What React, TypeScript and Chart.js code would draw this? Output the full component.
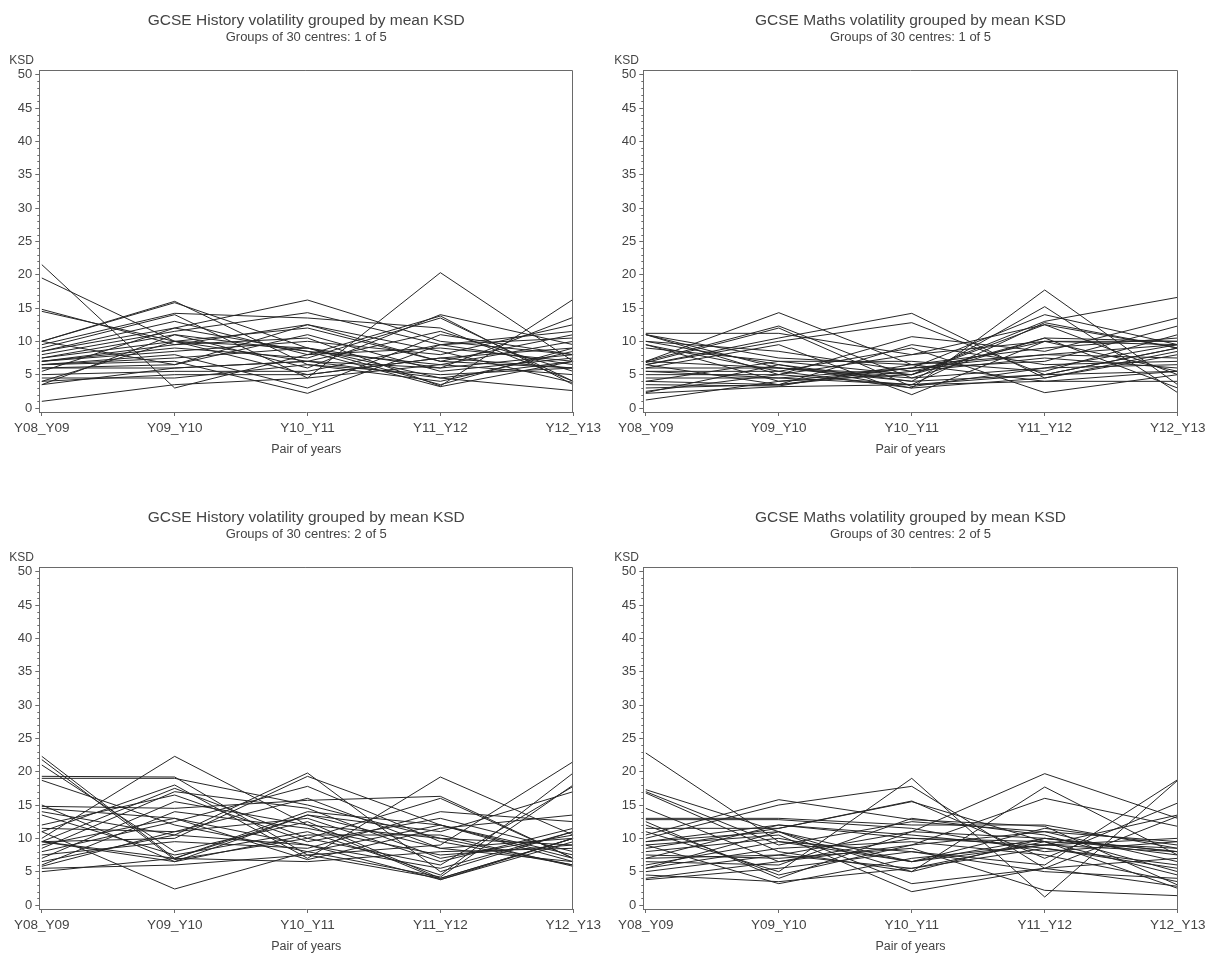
import React, { useEffect, useRef } from 'react';
import { Chart, registerables } from 'chart.js';

Chart.register(...registerables);

const FONT = '"Liberation Sans", Arial, sans-serif';
Chart.defaults.font.family = FONT;

const pairLabels = ['Y08_Y09', 'Y09_Y10', 'Y10_Y11', 'Y11_Y12', 'Y12_Y13'];
const xAxisTitle = 'Pair of years';
const yAxisTitle = 'KSD';

const historyGroup1: number[][] = [
  [21.5, 3, 8, 9, 7],
  [19.5, 10, 7, 6, 8],
  [14.8, 9.5, 12.5, 7, 6],
  [14.5, 10, 5, 7.5, 9],
  [10, 16, 6.5, 5, 6],
  [10, 15.8, 9, 4.5, 7],
  [9.5, 14.2, 13.5, 12, 4],
  [9, 14, 4.5, 20.3, 7],
  [8.5, 13, 8, 13.8, 3.5],
  [8.5, 12, 16.2, 10, 8],
  [8, 11.5, 14.3, 9.5, 6.5],
  [7.5, 11, 6, 14, 9.5],
  [7.5, 10, 12, 7, 11],
  [7, 9.5, 10.5, 3.3, 16.3],
  [7, 9, 7.5, 13.5, 4],
  [7, 8.5, 10, 8, 12.5],
  [6.5, 8, 3, 11, 8],
  [6.5, 7.5, 9, 6, 13.6],
  [6.5, 7, 2.2, 9.5, 10.5],
  [6, 6.5, 11, 5.5, 7.5],
  [6, 6, 7, 11.5, 5.5],
  [5.5, 12, 8.5, 6.5, 10],
  [5, 5.5, 5.5, 9.5, 11.5],
  [4.5, 4.5, 6.5, 4, 8.5],
  [4, 5, 5, 7.5, 6],
  [4, 10, 9, 3.5, 9],
  [3.5, 6, 7, 4.5, 2.6],
  [3.5, 11, 8.5, 3.2, 7],
  [1, 3.5, 4.5, 6.5, 5],
  [10, 6.5, 12.5, 8.5, 3.8],
];

const mathsGroup1: number[][] = [
  [11.2, 11.2, 8, 10, 9.5],
  [11, 5, 3.5, 12.8, 9],
  [11, 6, 4, 15.2, 2.3],
  [10, 6.5, 3, 17.7, 3.5],
  [9.5, 4, 6, 14, 9.5],
  [9, 7, 5, 12.5, 5],
  [7, 14.3, 6.5, 8, 9.5],
  [7, 12.3, 4.5, 10.5, 10],
  [6.8, 12, 3.2, 6, 9.5],
  [6.5, 10.5, 14.2, 4.5, 8.5],
  [6.5, 10, 12.8, 5, 9],
  [6, 9.5, 2, 10, 5.5],
  [6, 6, 5, 13, 16.6],
  [5.5, 5.5, 9, 2.3, 5],
  [5, 5, 10.7, 8.5, 13.5],
  [4.5, 4.5, 6, 7, 12.3],
  [4, 3.5, 5.5, 7.5, 6],
  [4, 7, 7, 5.5, 11],
  [3.5, 3.3, 6.5, 9, 10.5],
  [3, 3.5, 9.5, 6.5, 7],
  [2.5, 5, 8, 12.5, 9],
  [2.3, 6.5, 4, 5, 5.5],
  [2.2, 3.2, 3.5, 4, 4],
  [1.2, 4, 5, 10.5, 3],
  [9.5, 5.5, 3, 4.5, 8],
  [7, 6, 4.5, 6, 6.5],
  [6.5, 3.5, 6, 8, 7.5],
  [10, 8.5, 5.5, 10, 10],
  [5.5, 4.5, 3.5, 5, 9],
  [11, 7.5, 6.5, 4, 5.5],
];

const historyGroup2: number[][] = [
  [22.3, 7, 14, 12, 6.5],
  [21.8, 6.8, 10, 16, 7],
  [21, 8, 12.5, 4, 10],
  [19.3, 19.2, 7.5, 9, 21.5],
  [19, 19, 15, 10, 6],
  [18.7, 12, 8, 4.2, 18],
  [15, 6.5, 13.5, 11, 17],
  [14.8, 14.5, 15.7, 16.3, 7],
  [14, 10.5, 19.8, 5, 11],
  [13.5, 7.5, 11, 4.5, 19.8],
  [12, 16.5, 9.5, 13, 8],
  [11.5, 11, 16, 8.5, 10],
  [11, 18, 7, 19.2, 10.5],
  [10, 22.3, 12, 3.8, 9.5],
  [9.5, 17.5, 10, 6, 17.8],
  [9.5, 10, 19.3, 12, 7],
  [9, 13, 6.8, 11.5, 13.5],
  [8.5, 17, 14.5, 7, 10.5],
  [8, 12.5, 17.8, 9.5, 6],
  [7.5, 9.5, 8.5, 14, 12.5],
  [7, 15.5, 12, 10, 9],
  [6.5, 10.5, 9, 5.5, 11],
  [6, 14, 11.5, 7.5, 9],
  [5.8, 11, 13, 6.5, 11.5],
  [5.5, 6, 7.5, 4, 10],
  [5, 7, 6.5, 8, 8.5],
  [11, 2.4, 8, 12, 7.5],
  [9.5, 6.5, 10.5, 10.5, 5.8],
  [14.5, 13, 9, 3.8, 10],
  [9.5, 7, 13.5, 8.5, 6.5],
];

const mathsGroup2: number[][] = [
  [22.8, 9.5, 6.5, 10, 8],
  [17.3, 11, 3.2, 5.5, 13.3],
  [17, 9, 12.5, 11, 9.5],
  [16.8, 8, 5, 17.7, 7.5],
  [14.5, 6.5, 10, 9.5, 2.5],
  [13, 13, 12, 12, 8.5],
  [12.8, 12.8, 11.5, 8, 9.5],
  [12.5, 4, 11, 19.7, 13],
  [12, 4.5, 9, 16, 11.8],
  [11.5, 11.5, 15.6, 7, 15.3],
  [11, 5, 19, 1.2, 18.7],
  [10.5, 15.8, 12.8, 11.8, 3],
  [10, 15, 17.8, 5.5, 2.8],
  [9.5, 11, 5, 10, 8],
  [9, 3.2, 7, 9, 13.5],
  [9, 10.5, 2, 5.5, 7],
  [8.5, 11.5, 15.5, 9.5, 4.5],
  [8, 10, 6.5, 11.5, 9],
  [7.5, 7, 8.5, 2.2, 1.4],
  [7, 12, 10.5, 8.5, 6],
  [6.5, 6, 13, 10.5, 5],
  [6, 9.5, 8, 6, 18.8],
  [5.5, 11, 6.5, 9, 8],
  [5.5, 8.5, 9.5, 7.5, 3.5],
  [5, 7.5, 11, 10, 7.5],
  [4.5, 3.5, 5.5, 9.5, 8.5],
  [4, 6.5, 9, 11, 6.5],
  [3.8, 5.5, 8, 5, 4],
  [9.5, 12, 10, 9, 10],
  [7, 7.5, 5.5, 8.5, 5.5],
];

type PanelDef = {
  title: string;
  subtitle: string;
  series: number[][];
  left: number;
  top: number;
  width: number;
  height: number;
  axisLeft: number; // page x of y axis line
  axisRight: number; // page x of right box edge
};

const panels: PanelDef[] = [
  { title: 'GCSE History volatility grouped by mean KSD', subtitle: 'Groups of 30 centres: 1 of 5', series: historyGroup1, left: 0, top: 0, width: 605, height: 470, axisLeft: 39.3, axisRight: 574.3 },
  { title: 'GCSE Maths volatility grouped by mean KSD', subtitle: 'Groups of 30 centres: 1 of 5', series: mathsGroup1, left: 605, top: 0, width: 606, height: 470, axisLeft: 643.3, axisRight: 1177.7 },
  { title: 'GCSE History volatility grouped by mean KSD', subtitle: 'Groups of 30 centres: 2 of 5', series: historyGroup2, left: 0, top: 497, width: 605, height: 470, axisLeft: 39.3, axisRight: 574.3 },
  { title: 'GCSE Maths volatility grouped by mean KSD', subtitle: 'Groups of 30 centres: 2 of 5', series: mathsGroup2, left: 605, top: 497, width: 606, height: 457, axisLeft: 643.3, axisRight: 1177.7 },
];

const TEXT = '#444';
const AXIS = '#6a6a6a';

function Panel({ def }: { def: PanelDef }) {
  const ref = useRef<HTMLCanvasElement | null>(null);

  useEffect(() => {
    const canvas = ref.current;
    if (!canvas) return;
    const yWidth = def.axisLeft - def.left;
    const rightPad = def.left + def.width - def.axisRight;
    const plotTop = 70;
    const axisBottom = 412;
    const bottomPad = 12.5;
    const xHeight = 470 - bottomPad - axisBottom;

    const decor = {
      id: 'decor',
      afterDraw(chart: any) {
        const { ctx, chartArea: ca, scales } = chart;
        const y = scales.y;
        ctx.save();
        ctx.strokeStyle = AXIS;
        ctx.lineWidth = 1;
        const t = Math.round(ca.top) + 0.5;
        const r = Math.round(ca.right) - 0.5;
        ctx.beginPath();
        ctx.moveTo(ca.left, t);
        ctx.lineTo(r, t);
        ctx.lineTo(r, ca.bottom);
        ctx.stroke();
        // minor ticks on y axis
        ctx.beginPath();
        for (let v = 1; v < 50; v++) {
          if (v % 5 === 0) continue;
          const py = Math.round(y.getPixelForValue(v)) + 0.5;
          ctx.moveTo(ca.left - 2, py);
          ctx.lineTo(ca.left, py);
        }
        ctx.stroke();
        // titles
        const cx = (ca.left + ca.right) / 2;
        ctx.fillStyle = TEXT;
        ctx.textAlign = 'center';
        ctx.textBaseline = 'middle';
        ctx.font = `15.5px ${FONT}`;
        ctx.fillText(def.title, cx, 20.7);
        ctx.font = `13px ${FONT}`;
        ctx.fillText(def.subtitle, cx, 37.3);
        ctx.font = `12px ${FONT}`;
        ctx.fillText(yAxisTitle, 21.5, 61);
        ctx.restore();
      },
    };

    const chart = new Chart(canvas, {
      type: 'line',
      data: {
        datasets: def.series.map((arr, k) => ({
          label: `Centre ${k + 1}`,
          data: arr.map((v, i) => ({ x: i, y: v })),
          borderColor: '#262626',
          borderWidth: 1,
          pointRadius: 0,
          fill: false,
          tension: 0,
        })),
      },
      options: {
        animation: false,
        responsive: false,
        events: [],
        layout: { padding: { left: 0, right: rightPad, top: plotTop, bottom: bottomPad } },
        plugins: { legend: { display: false }, tooltip: { enabled: false }, title: { display: false } },
        scales: {
          x: {
            type: 'linear',
            min: -0.019,
            max: 4,
            afterFit: (s: any) => { s.height = xHeight; },
            ticks: {
              stepSize: 1,
              includeBounds: false,
              autoSkip: false,
              maxRotation: 0,
              padding: 4,
              color: TEXT,
              font: { size: 13.5, family: FONT },
              callback: (v: any) => pairLabels[v as number] ?? '',
            },
            grid: { drawOnChartArea: false, drawTicks: true, tickLength: 4, color: AXIS },
            border: { display: true, color: AXIS, width: 1 },
            title: { display: true, text: xAxisTitle, padding: 0, color: TEXT, font: { size: 12.5, family: FONT } },
          },
          y: {
            type: 'linear',
            min: -0.6,
            max: 50.7,
            afterFit: (s: any) => { s.width = yWidth; },
            ticks: {
              stepSize: 5,
              includeBounds: false,
              padding: 3,
              color: TEXT,
              font: { size: 13, family: FONT },
            },
            grid: { drawOnChartArea: false, drawTicks: true, tickLength: 4, color: AXIS },
            border: { display: true, color: AXIS, width: 1 },
          },
        },
      },
      plugins: [decor],
    } as any);

    return () => chart.destroy();
  }, [def]);

  return (
    <canvas
      ref={ref}
      width={def.width}
      height={470}
      style={{ position: 'absolute', left: def.left, top: def.top, display: 'block' }}
    />
  );
}

export default function App() {
  return (
    <div style={{ position: 'fixed', left: 0, top: 0, width: 1211, height: 954, background: '#fff', overflow: 'hidden' }}>
      {panels.map((p, i) => (
        <Panel key={i} def={p} />
      ))}
    </div>
  );
}
